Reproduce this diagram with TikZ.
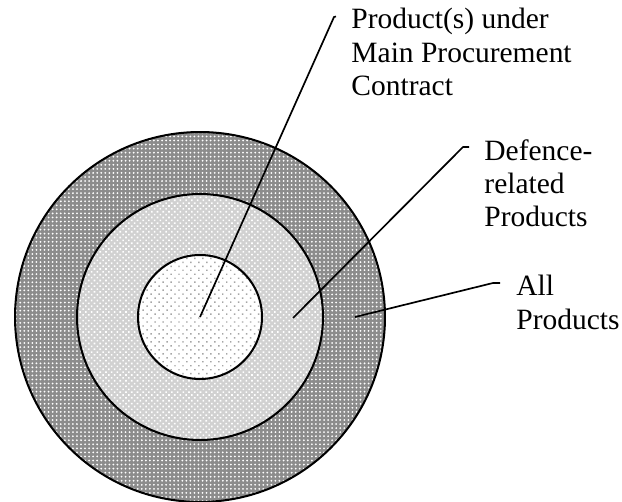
\documentclass[tikz,border=0pt]{standalone}
\usepackage{fontspec}
\setmainfont{Liberation Serif}
\usetikzlibrary{patterns.meta}
\begin{document}
% one unit = one pixel of a 622 x 501 canvas, y growing downwards
\begin{tikzpicture}[x=0.4444pt,y=-0.4444pt,
  ring/.style={circle,draw=black,line width=0.9pt,inner sep=0pt},
  leader/.style={draw=black,line width=0.75pt,line join=round},
  label/.style={anchor=north west,inner sep=0pt,align=left,
    font=\fontsize{13.1pt}{14.8pt}\selectfont}]
\useasboundingbox (0,0) rectangle (622,501);

% nested sets, each with a fine screen tone
\node[ring,minimum size=164.4pt,preaction={fill=black!45},
      pattern={Dots[distance=1.8pt,radius=0.45pt]},pattern color=white]
      (outer) at (200,317) {};
\node[ring,minimum size=109.3pt,preaction={fill=black!18},
      pattern={Dots[distance=1.8pt,radius=0.5pt,angle=45]},pattern color=white]
      (middle) at (200,317) {};
\node[ring,minimum size=55.1pt,preaction={fill=white},
      pattern={Dots[distance=2.5pt,radius=0.45pt,angle=45]},pattern color=black!35]
      (inner) at (200,317) {};

% labels
\node[label] (lblmain) at (351,8)   {Product(s) under\\Main Procurement\\Contract};
\node[label] (lbldef)  at (484,139) {Defence-\\related\\Products};
\node[label] (lblall)  at (516,275) {All\\Products};

% leader lines
\coordinate (pmid) at (293,318);
\coordinate (pall) at (355,317);
\coordinate (kmain) at (334,17);
\coordinate (kdef)  at (463,147);
\coordinate (kall)  at (493,283);
\draw[leader] (inner.center) -- (kmain) -- ++(2,-0.5);
\draw[leader] (pmid) -- (kdef) -- ++(6,0);
\draw[leader] (pall) -- (kall) -- ++(7,0);
\end{tikzpicture}
\end{document}
